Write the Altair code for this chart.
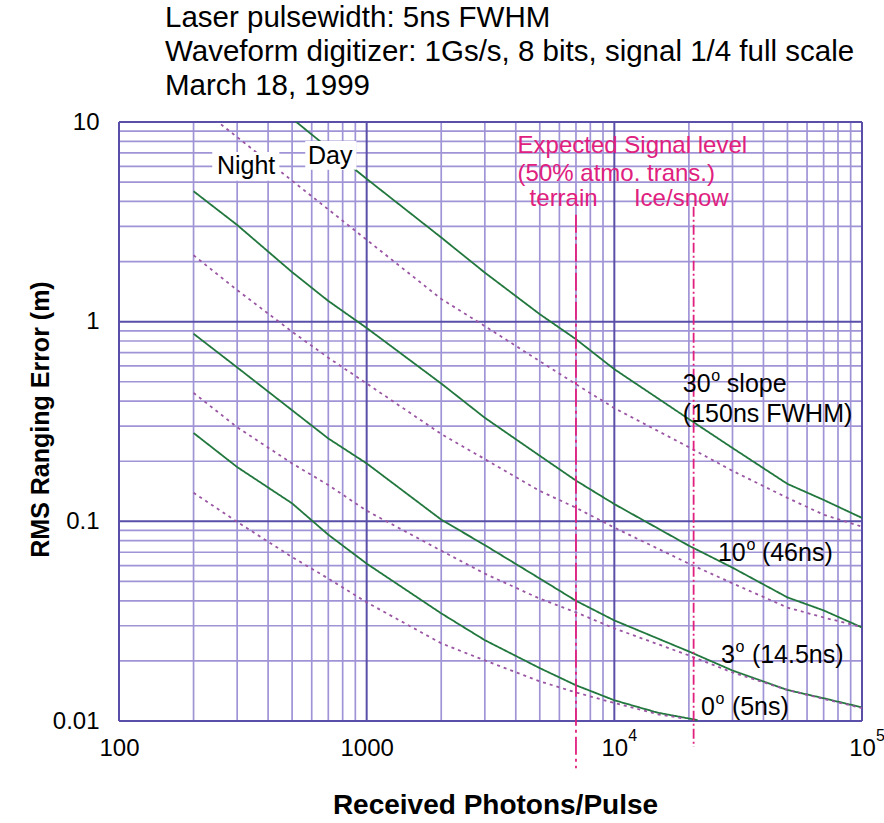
import altair as alt
import pandas as pd

FONT = "Liberation Sans"
GREEN = "#21773d"
PURPLE = "#9a55a3"
MAGENTA = "#e0207e"
MINOR = "#a094d6"
MAJOR = "#5a4fa8"

# ---------------- data ----------------
X_PTS = [200, 300, 500, 700, 1000, 2000, 3000, 5000, 7000, 10000, 20000, 30000, 50000, 70000, 100000]

X30_DAY = [500, 700, 1000, 2000, 3000, 5000, 7000, 10000, 20000, 30000, 50000, 70000, 100000]
Y30_DAY = [10.4, 7.41, 5.19, 2.64, 1.76, 1.09, 0.817, 0.578, 0.325, 0.233, 0.154, 0.128, 0.104]
Y30_NIGHT = [12.5, 8.4, 5.08, 3.65, 2.57, 1.3, 0.95, 0.634, 0.486, 0.369, 0.235, 0.179, 0.131, 0.108, 0.094]

Y10_DAY = [4.5, 3.05, 1.77, 1.27, 0.93, 0.49, 0.33, 0.213, 0.16, 0.122, 0.0755, 0.0586, 0.0416, 0.0358, 0.0294]
Y10_NIGHT = [2.15, 1.44, 0.89, 0.66, 0.49, 0.274, 0.205, 0.142, 0.117, 0.093, 0.0614, 0.0489, 0.037, 0.033, 0.0295]

Y3_DAY = [0.87, 0.59, 0.36, 0.26, 0.195, 0.102, 0.076, 0.0517, 0.040, 0.0319, 0.0223, 0.0179, 0.0143, 0.013, 0.0117]
Y3_NIGHT = [0.44, 0.296, 0.195, 0.152, 0.113, 0.0713, 0.0547, 0.041, 0.035, 0.0291, 0.0213, 0.0175, 0.0143, 0.0129, 0.0116]

X0_DAY = [200, 300, 500, 700, 1000, 2000, 3000, 5000, 7000, 10000, 15000, 21700]
Y0_DAY = [0.277, 0.187, 0.123, 0.0857, 0.0614, 0.0346, 0.0254, 0.0184, 0.0151, 0.0127, 0.011, 0.0101]
X0_NIGHT = [200, 300, 500, 700, 1000, 2000, 3000, 5000, 7000, 10000, 15000, 19100]
Y0_NIGHT = [0.139, 0.0994, 0.0662, 0.0517, 0.0393, 0.0245, 0.0201, 0.0158, 0.0139, 0.0123, 0.0108, 0.0103]

SIGNAL_X = [7000, 20900]
SIGNAL_TOP = [3.43, 3.76]
SIGNAL_BOTTOM = [0.0058, 0.0074]
SIGNAL_NAME = ["terrain", "ice"]
SIGNAL_DASH = {"terrain": [18, 4, 3, 4], "ice": [10, 3, 2, 3]}

TITLE_LINES = [
    "Laser pulsewidth: 5ns FWHM",
    "Waveform digitizer: 1Gs/s, 8 bits, signal 1/4 full scale",
    "March 18, 1999",
]

MAGENTA_TEXT = ["Expected Signal level", "(50% atmo. trans.)", "terrain", "Ice/snow"]
MAGENTA_X = [4068, 4068, 4549, 12000]
MAGENTA_Y = [7.6, 5.5, 4.12, 4.12]

# curve labels: base number, superscript "o", remainder
LABEL_BASE = ["30", "10", "3", "0"]
LABEL_REST = ["slope", "(46ns)", "(14.5ns)", "(5ns)"]
LABEL_X = [18910, 26190, 26930, 22360]
LABEL_Y = [0.486, 0.0697, 0.0213, 0.0117]
EXTRA_TEXT = ["(150ns FWHM)"]
EXTRA_X = [18910]
EXTRA_Y = [0.345]

BOX_TEXT = ["Night", "Day"]
BOX_X = [326, 713]
BOX_Y = [6.03, 6.77]
BOX_X1 = [238, 565]
BOX_X2 = [444, 909]
BOX_Y1 = [7.08, 8.04]
BOX_Y2 = [5.08, 5.76]

X_MINOR = [m * 10 ** e for e in (2, 3, 4) for m in range(2, 10)]
Y_MINOR = [round(m * 10.0 ** e, 4) for e in (-2, -1, 0) for m in range(2, 10)]
X_MAJOR = [100, 1000, 10000, 100000]
Y_MAJOR = [0.01, 0.1, 1, 10]
X_POWER_TICKS = [10000, 100000]
X_POWER_EXP = ["4", "5"]

# ---------------- tables ----------------
rows = []
def add(series, kind, xv, yv):
    for a, b in zip(xv, yv):
        rows.append({"x": a, "y": b, "series": series, "kind": kind})

add("30", "Day", X30_DAY, Y30_DAY)
add("30", "Night", X_PTS, Y30_NIGHT)
add("10", "Day", X_PTS, Y10_DAY)
add("10", "Night", X_PTS, Y10_NIGHT)
add("3", "Day", X_PTS, Y3_DAY)
add("3", "Night", X_PTS, Y3_NIGHT)
add("0", "Day", X0_DAY, Y0_DAY)
add("0", "Night", X0_NIGHT, Y0_NIGHT)
curves_df = pd.DataFrame(rows)
curves_df["sk"] = curves_df["series"] + curves_df["kind"]

W, H = 743, 599
xs = alt.Scale(type="log", domain=[100, 100000], nice=False)
ys = alt.Scale(type="log", domain=[0.01, 10], nice=False)

x_axis = alt.Axis(
    values=X_MAJOR,
    labelExpr="datum.value == 100 ? '100' : datum.value == 1000 ? '1000' : '10'",
    grid=False, ticks=False, domain=False,
    labelFont=FONT, labelFontSize=24, labelColor="black", labelPadding=15,
    labelFlush=False, labelOverlap=False,
    title="Received Photons/Pulse", titleFont=FONT, titleFontSize=28, titleFontWeight="bold",
    titleColor="black", titleX=376, titleY=84, titleBaseline="middle", titleAlign="center",
)
y_axis = alt.Axis(
    values=Y_MAJOR,
    labelExpr="datum.value == 0.01 ? '0.01' : datum.value == 0.1 ? '0.1' : datum.value == 1 ? '1' : '10'",
    grid=False, ticks=False, domain=False,
    labelFont=FONT, labelFontSize=24, labelColor="black", labelPadding=20,
    labelFlush=False, labelOverlap=False,
    title="RMS Ranging Error (m)", titleFont=FONT, titleFontSize=25, titleFontWeight="bold",
    titleColor="black", titleX=-79, titleY=297, titleBaseline="middle", titleAlign="center", titleAngle=-90,
)

def X(field="x"):
    return alt.X(f"{field}:Q", scale=xs, axis=x_axis, title="Received Photons/Pulse")

def Y(field="y"):
    return alt.Y(f"{field}:Q", scale=ys, axis=y_axis, title="RMS Ranging Error (m)")

vminor = alt.Chart(pd.DataFrame({"x": X_MINOR})).mark_rule(color=MINOR, strokeWidth=1.7).encode(x=X())
hminor = alt.Chart(pd.DataFrame({"y": Y_MINOR})).mark_rule(color=MINOR, strokeWidth=1.7).encode(y=Y())
vmajor = alt.Chart(pd.DataFrame({"x": X_MAJOR})).mark_rule(color=MAJOR, strokeWidth=2).encode(x=X())
hmajor = alt.Chart(pd.DataFrame({"y": Y_MAJOR})).mark_rule(color=MAJOR, strokeWidth=2).encode(y=Y())

curves = alt.Chart(curves_df).mark_line(strokeWidth=1.8, clip=True).encode(
    x=X(), y=Y(),
    color=alt.Color("kind:N", scale=alt.Scale(domain=["Day", "Night"], range=[GREEN, PURPLE]), legend=None),
    strokeDash=alt.StrokeDash("kind:N", scale=alt.Scale(domain=["Day", "Night"], range=[[1, 0], [3, 4]]), legend=None),
    detail="sk:N",
)

sig_df = pd.DataFrame({"x": SIGNAL_X, "y": SIGNAL_TOP, "y2": SIGNAL_BOTTOM, "name": SIGNAL_NAME})
signal_layers = [
    alt.Chart(sig_df).transform_filter(alt.datum.name == nm).mark_rule(
        color=MAGENTA, strokeWidth=1.8, strokeDash=SIGNAL_DASH[nm]
    ).encode(x=X(), y=Y(), y2="y2:Q")
    for nm in SIGNAL_NAME
]

box_df = pd.DataFrame({"text": BOX_TEXT, "x": BOX_X, "y": BOX_Y, "x1": BOX_X1, "x2": BOX_X2, "y1": BOX_Y1, "y2": BOX_Y2})
boxes = alt.Chart(box_df).mark_rect(color="white").encode(x=X("x1"), x2="x2:Q", y=Y("y1"), y2="y2:Q")
box_text = alt.Chart(box_df).mark_text(font=FONT, fontSize=25, color="black", align="center", baseline="middle").encode(
    x=X(), y=Y(), text="text:N")

mag_df = pd.DataFrame({"text": MAGENTA_TEXT, "x": MAGENTA_X, "y": MAGENTA_Y})
mag_text = alt.Chart(mag_df).mark_text(font=FONT, fontSize=24, color=MAGENTA, align="left", baseline="middle").encode(
    x=X(), y=Y(), text="text:N")

lab_df = pd.DataFrame({"base": LABEL_BASE, "rest": LABEL_REST, "x": LABEL_X, "y": LABEL_Y})
lab_df["ndig"] = lab_df["base"].str.len()
lab_df["sup"] = "o"
label_layers = [
    alt.Chart(lab_df).mark_text(font=FONT, fontSize=25, color="black", align="left", baseline="middle").encode(
        x=X(), y=Y(), text="base:N")
]
for nd, sup_dx, rest_dx in [(2, 28.5, 44), (1, 14.5, 31)]:
    sub = alt.Chart(lab_df).transform_filter(alt.datum.ndig == nd)
    label_layers.append(
        sub.mark_text(font=FONT, fontSize=16, color="black", align="left", baseline="middle", dx=sup_dx, dy=-8)
        .encode(x=X(), y=Y(), text="sup:N"))
    label_layers.append(
        sub.mark_text(font=FONT, fontSize=25, color="black", align="left", baseline="middle", dx=rest_dx)
        .encode(x=X(), y=Y(), text="rest:N"))

extra_df = pd.DataFrame({"text": EXTRA_TEXT, "x": EXTRA_X, "y": EXTRA_Y})
extra_text = alt.Chart(extra_df).mark_text(font=FONT, fontSize=25, color="black", align="left", baseline="middle").encode(
    x=X(), y=Y(), text="text:N")

pow_df = pd.DataFrame({"x": X_POWER_TICKS, "e": X_POWER_EXP})
pow_text = alt.Chart(pow_df).mark_text(font=FONT, fontSize=16, color="black", align="left", baseline="middle", dx=14).encode(
    x=X(), y=alt.value(H + 15), text="e:N")

title_layers = []
for i, line in enumerate(TITLE_LINES):
    title_layers.append(
        alt.Chart(pd.DataFrame({"t": [line]})).mark_text(
            font=FONT, fontSize=29.5, color="black", align="left", baseline="alphabetic"
        ).encode(x=alt.value(46), y=alt.value(-95 + 34 * i), text="t:N")
    )

chart = alt.layer(
    vminor, hminor, vmajor, hmajor, curves, *signal_layers, boxes, box_text, mag_text,
    *label_layers, extra_text, pow_text, *title_layers
).properties(
    width=W, height=H,
    padding={"left": 119, "top": 122, "right": 22, "bottom": 102},
    autosize=alt.AutoSizeParams(type="none"),
    background="white",
).configure_view(strokeWidth=0)

chart.save("out.html", embed_options={"renderer": "svg", "actions": False})
